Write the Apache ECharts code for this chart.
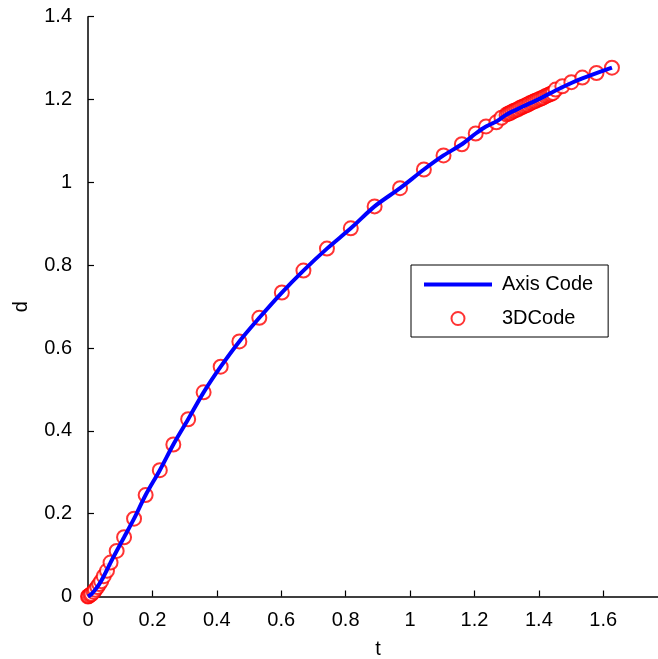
<!DOCTYPE html>
<html>
<head>
<meta charset="utf-8">
<script src="https://cdn.jsdelivr.net/npm/echarts@6/dist/echarts.min.js"></script>
<style>html,body{margin:0;padding:0;background:#fff}#c{width:658px;height:659px}</style>
</head>
<body>
<div id="c"></div>
<script>
// 3DCode (circles)
var codeT = [0, 0.002, 0.007, 0.011, 0.018, 0.022, 0.029, 0.035, 0.041, 0.049, 0.059, 0.070, 0.089, 0.112, 0.143, 0.179, 0.223, 0.265, 0.311, 0.359, 0.412, 0.470, 0.532, 0.602, 0.669, 0.742, 0.816, 0.890, 0.969, 1.043, 1.104, 1.161, 1.204, 1.236, 1.268, 1.284,
  1.300, 1.306, 1.312, 1.318, 1.324, 1.330, 1.336, 1.342, 1.348, 1.354, 1.360, 1.366, 1.372, 1.378, 1.384, 1.390, 1.396, 1.402, 1.408, 1.414, 1.420, 1.426, 1.432, 1.438, 1.444,
  1.452, 1.473, 1.501, 1.535, 1.579, 1.627];
var codeD = [0, 0.001, 0.004, 0.006, 0.011, 0.016, 0.023, 0.030, 0.037, 0.049, 0.062, 0.082, 0.110, 0.143, 0.188, 0.245, 0.305, 0.367, 0.428, 0.493, 0.555, 0.616, 0.673, 0.734, 0.787, 0.840, 0.889, 0.942, 0.986, 1.031, 1.065, 1.092, 1.118, 1.135, 1.145, 1.156,
  1.164, 1.166, 1.168, 1.171, 1.173, 1.175, 1.177, 1.180, 1.182, 1.184, 1.186, 1.188, 1.191, 1.193, 1.195, 1.197, 1.199, 1.201, 1.203, 1.205, 1.208, 1.210, 1.212, 1.214, 1.216,
  1.224, 1.232, 1.242, 1.253, 1.264, 1.277];
// Axis Code (line)
var axisT = [0, 0.011, 0.022, 0.035, 0.049, 0.070, 0.089, 0.112, 0.143, 0.179, 0.223, 0.265, 0.311, 0.359, 0.412, 0.470, 0.532, 0.602, 0.669, 0.742, 0.816, 0.890, 0.969, 1.043, 1.104, 1.161, 1.204, 1.236, 1.268, 1.300, 1.350, 1.400, 1.452, 1.501, 1.535, 1.579, 1.627];
var axisD = [0, 0.006, 0.016, 0.030, 0.049, 0.082, 0.110, 0.143, 0.188, 0.245, 0.305, 0.367, 0.428, 0.493, 0.555, 0.616, 0.673, 0.734, 0.787, 0.840, 0.889, 0.942, 0.986, 1.031, 1.065, 1.092, 1.118, 1.135, 1.147, 1.164, 1.183, 1.201, 1.222, 1.240, 1.251, 1.264, 1.277];
var xTicks = [0, 0.2, 0.4, 0.6, 0.8, 1, 1.2, 1.4, 1.6];
var yTicks = [0, 0.2, 0.4, 0.6, 0.8, 1, 1.2, 1.4];

function pairs(a, b) { return a.map(function (v, i) { return [v, b[i]]; }); }

var font = 'Liberation Sans, Arial, sans-serif';
var chart = echarts.init(document.getElementById('c'), null, { renderer: 'canvas' });
chart.setOption({
  animation: false,
  backgroundColor: '#fff',
  grid: { left: 88, top: 16.7, right: 0, bottom: 62.5, containLabel: false, outerBoundsMode: 'none' },
  xAxis: {
    type: 'value', min: 0, max: 1.77, interval: 0.2,
    name: 't', nameLocation: 'middle', nameGap: 43,
    nameTextStyle: { color: '#000', fontSize: 20, fontFamily: font, padding: [0, 0, 0, 10] },
    axisLine: { show: true, onZero: false, lineStyle: { color: '#000', width: 1.5 } },
    axisTick: { show: true, inside: true, length: 6, lineStyle: { color: '#000', width: 1.2 }, customValues: xTicks },
    axisLabel: { color: '#000', fontSize: 20, fontFamily: font, margin: 14, customValues: xTicks },
    splitLine: { show: false }
  },
  yAxis: {
    type: 'value', min: 0, max: 1.4, interval: 0.2,
    name: 'd', nameLocation: 'middle', nameGap: 57,
    nameTextStyle: { color: '#000', fontSize: 20, fontFamily: font },
    axisLine: { show: true, onZero: false, lineStyle: { color: '#000', width: 1.5 } },
    axisTick: { show: true, inside: true, length: 6, lineStyle: { color: '#000', width: 1.2 }, customValues: yTicks },
    axisLabel: { color: '#000', fontSize: 20, fontFamily: font, margin: 16, customValues: yTicks },
    splitLine: { show: false }
  },
  legend: {
    orient: 'vertical', left: 411, top: 265,
    padding: [9, 15, 8, 13],
    borderColor: '#000', borderWidth: 1, backgroundColor: '#fff',
    itemWidth: 68, itemHeight: 13, itemGap: 13,
    textStyle: { color: '#000', fontSize: 20, fontFamily: font, lineHeight: 21, padding: [0, 0, 0, 5] },
    data: [
      { name: 'Axis Code', icon: 'path://M0,0H68V4H0Z', itemStyle: { color: '#0000ff' } },
      '3DCode'
    ]
  },
  series: [
    {
      name: '3DCode', type: 'scatter', z: 2,
      symbol: 'emptyCircle', symbolSize: 14,
      itemStyle: { color: '#ff0000', borderColor: '#ff0000', borderWidth: 1 },
      data: pairs(codeT, codeD)
    },
    {
      name: 'Axis Code', type: 'line', z: 3,
      symbol: 'none', smooth: 0.3,
      lineStyle: { color: '#0000ff', width: 4 },
      itemStyle: { color: '#0000ff' },
      data: pairs(axisT, axisD)
    }
  ]
});
</script>
</body>
</html>
